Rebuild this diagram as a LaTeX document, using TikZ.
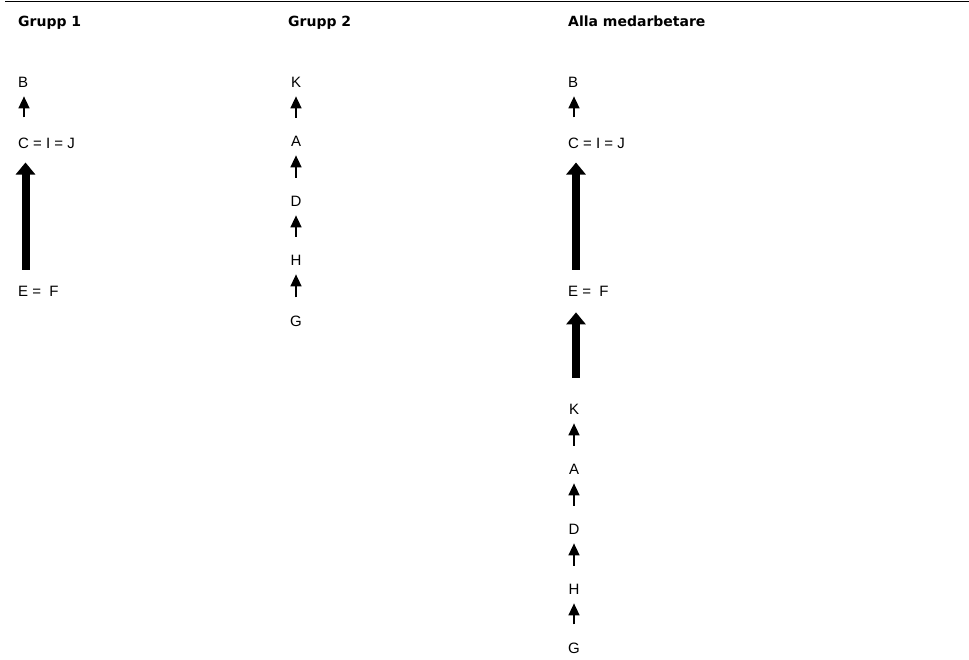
\documentclass[tikz,border=0pt]{standalone}
\usepackage{fontspec}
\setmainfont{Liberation Sans}
\newfontfamily\headfont{DejaVu Sans}
\usetikzlibrary{arrows.meta,calc}
\tikzset{
  lbl/.style={inner sep=0pt, font=\fontsize{15}{18}\selectfont},
  hdr/.style={inner sep=0pt, anchor=base west, font=\headfont\bfseries\fontsize{14}{17}\selectfont},
  thinarrow/.style={line width=1.5pt, -{Triangle[width=11pt,length=12pt]}},
  thickarrow/.style={line width=8pt, -{Triangle[width=19pt,length=12pt]}}
}
\begin{document}
\begin{tikzpicture}[x=1pt,y=-1pt]
\useasboundingbox (0,0) rectangle (969,659);
\draw[line width=1.5pt] (5,1.5) -- (969,1.5);
% headers
\node[hdr] (h1) at (18,26) {Grupp 1};
\node[hdr] (h2) at (288,26) {Grupp 2};
\node[hdr] (h3) at (568,26) {Alla medarbetare};
% columns
\coordinate (t1) at (24,0);
\coordinate (k1) at (25.5,0);
\coordinate (t3) at (574,0);
\coordinate (k3) at (576,0);
% group 1
\node[lbl,anchor=west] (B1) at (18,82) {B};
\node[lbl,anchor=west] (CIJ1) at (18,143) {C = I = J};
\node[lbl,anchor=west] (EF1) at (18,291) {E =\hspace{0.55em}F};
\draw[thinarrow] ($(CIJ1.north -| t1)+(0,-20)$) -- ($(B1.south -| t1)+(0,9)$);
\draw[thickarrow] ($(EF1.north -| k1)+(0,-16)$) -- ($(CIJ1.south -| k1)+(0,14)$);
% group 2
\node[lbl] (K2) at (296,82) {K};
\node[lbl] (A2) at (296,141) {A};
\node[lbl] (D2) at (296,201) {D};
\node[lbl] (H2) at (296,260) {H};
\node[lbl] (G2) at (296,321) {G};
\foreach \lo/\hi in {A2/K2,D2/A2,H2/D2,G2/H2}{
  \draw[thinarrow] ($(\lo.north)+(0,-18)$) -- ($(\hi.south)+(0,9)$);
}
% group 3
\node[lbl,anchor=west] (B3) at (568,82) {B};
\node[lbl,anchor=west] (CIJ3) at (568,143) {C = I = J};
\node[lbl,anchor=west] (EF3) at (568,291) {E =\hspace{0.55em}F};
\node[lbl] (K3) at (574,409) {K};
\node[lbl] (A3) at (574,469) {A};
\node[lbl] (D3) at (574,529) {D};
\node[lbl] (H3) at (574,589) {H};
\node[lbl] (G3) at (574,648) {G};
\draw[thinarrow] ($(CIJ3.north -| t3)+(0,-20)$) -- ($(B3.south -| t3)+(0,9)$);
\draw[thickarrow] ($(EF3.north -| k3)+(0,-16)$) -- ($(CIJ3.south -| k3)+(0,14)$);
\draw[thickarrow] ($(K3.north -| k3)+(0,-26)$) -- ($(EF3.south -| k3)+(0,16)$);
\foreach \lo/\hi in {A3/K3,D3/A3,H3/D3,G3/H3}{
  \draw[thinarrow] ($(\lo.north)+(0,-18)$) -- ($(\hi.south)+(0,9)$);
}
\end{tikzpicture}
\end{document}
